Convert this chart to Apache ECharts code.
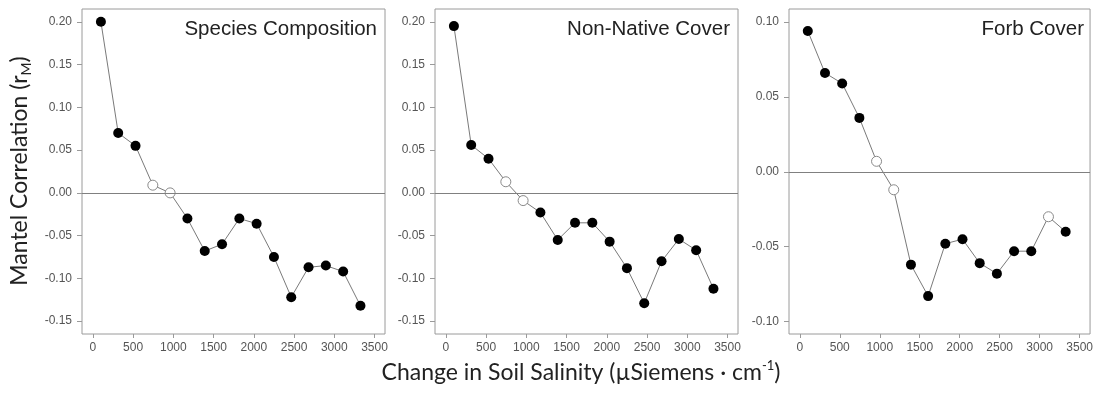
<!DOCTYPE html>
<html>
<head>
<meta charset="utf-8">
<script src="https://cdn.jsdelivr.net/npm/echarts@6/dist/echarts.min.js"></script>
<style>
  html, body { margin: 0; padding: 0; background: #ffffff; }
  #chart { width: 1096px; height: 394px; }
</style>
</head>
<body>
<div id="chart"></div>
<script>
// Distance-class midpoints (change in soil salinity, µS/cm)
const salinityBins = [100, 315, 530, 745, 960, 1175, 1390, 1605, 1820, 2035, 2250, 2465, 2680, 2895, 3110, 3325];

// Mantel correlogram values per response
const speciesComposition = [0.200, 0.070, 0.055, 0.009, 0.000, -0.030, -0.068, -0.060, -0.030, -0.036, -0.075, -0.122, -0.087, -0.085, -0.092, -0.132];
const nonNativeCover     = [0.195, 0.056, 0.040, 0.013, -0.009, -0.023, -0.055, -0.035, -0.035, -0.057, -0.088, -0.129, -0.080, -0.054, -0.067, -0.112];
const forbCover          = [0.094, 0.066, 0.059, 0.036, 0.007, -0.012, -0.062, -0.083, -0.048, -0.045, -0.061, -0.068, -0.053, -0.053, -0.030, -0.040];

// Indices of non-significant classes (drawn as open circles)
const speciesNonSig   = [3, 4];
const nonNativeNonSig = [3, 4];
const forbNonSig      = [4, 5, 14];

// Panel names and tick labels
const panelTitles = ['Species Composition', 'Non-Native Cover', 'Forb Cover'];
const xTicks = [0, 500, 1000, 1500, 2000, 2500, 3000, 3500];
const yTicksWide = [-0.15, -0.10, -0.05, 0.00, 0.05, 0.10, 0.15, 0.20];
const yTicksForb = [-0.10, -0.05, 0.00, 0.05, 0.10];

const panels = [
  { title: panelTitles[0], values: speciesComposition, nonSig: speciesNonSig,   yTicks: yTicksWide, yMin: -0.165, yMax: 0.215,  left: 82 },
  { title: panelTitles[1], values: nonNativeCover,     nonSig: nonNativeNonSig, yTicks: yTicksWide, yMin: -0.165, yMax: 0.215,  left: 435 },
  { title: panelTitles[2], values: forbCover,          nonSig: forbNonSig,      yTicks: yTicksForb, yMin: -0.1083, yMax: 0.1087, left: 789 }
];

const PLOT_TOP = 9, PLOT_W = 303, PLOT_H = 325, PAGE_W = 1096;
const tickFont = 'Liberation Sans, Arial, sans-serif';
const titleFont = 'Lato, "Open Sans", sans-serif';

const chart = echarts.init(document.getElementById('chart'), null, { renderer: 'canvas' });

const option = {
  animation: false,
  backgroundColor: '#ffffff',
  title: panels.map(p => ({
    text: p.title,
    right: PAGE_W - (p.left + PLOT_W) + 8,
    top: 19,
    padding: 0,
    textStyle: { fontFamily: tickFont, fontSize: 20.5, fontWeight: 'normal', color: '#222222', lineHeight: 20 }
  })),
  grid: panels.map(p => ({
    left: p.left, top: PLOT_TOP, width: PLOT_W, height: PLOT_H,
    show: true, borderColor: '#9a9a9a', borderWidth: 1, backgroundColor: 'transparent'
  })),
  xAxis: panels.map((p, i) => ({
    gridIndex: i, type: 'value', min: -135, max: 3630, position: 'bottom',
    axisLine: { show: false, onZero: false },
    splitLine: { show: false },
    axisTick: { show: true, customValues: xTicks, length: 4, lineStyle: { color: '#9a9a9a' } },
    axisLabel: { customValues: xTicks, margin: 8, fontSize: 12, color: '#555555', fontFamily: tickFont,
                 formatter: v => String(v) }
  })),
  yAxis: panels.map((p, i) => ({
    gridIndex: i, type: 'value', min: p.yMin, max: p.yMax, position: 'left',
    axisLine: { show: false, onZero: false },
    splitLine: { show: false },
    axisTick: { show: true, customValues: p.yTicks, length: 5, lineStyle: { color: '#9a9a9a' } },
    axisLabel: { customValues: p.yTicks, margin: 10, fontSize: 12, color: '#555555', fontFamily: tickFont,
                 formatter: v => v.toFixed(2) }
  })),
  series: panels.map((p, i) => ({
    type: 'line',
    xAxisIndex: i, yAxisIndex: i,
    symbol: 'circle', symbolSize: 10, showAllSymbol: true,
    lineStyle: { color: '#7a7a7a', width: 1 },
    data: salinityBins.map((x, k) => {
      const open = p.nonSig.indexOf(k) !== -1;
      return {
        value: [x, p.values[k]],
        itemStyle: open
          ? { color: '#ffffff', borderColor: '#8a8a8a', borderWidth: 1 }
          : { color: '#000000', borderColor: '#000000', borderWidth: 0 }
      };
    }),
    markLine: {
      silent: true, symbol: 'none', label: { show: false },
      lineStyle: { color: '#808080', width: 1, type: 'solid' },
      data: [{ yAxis: 0 }]
    },
    z: 3
  })),
  graphic: [
    {
      type: 'text', x: 20, y: 171, rotation: Math.PI / 2,
      style: {
        text: '{a|Mantel Correlation (r}{s|M}{a|)}',
        align: 'center', verticalAlign: 'middle',
        fill: '#222222',
        rich: {
          a: { fontFamily: titleFont, fontSize: 23, lineHeight: 27, fill: '#222222', verticalAlign: 'middle' },
          s: { fontFamily: titleFont, fontSize: 14, lineHeight: 14, fill: '#222222', verticalAlign: 'bottom' }
        }
      }
    },
    {
      type: 'text', x: 581, y: 373,
      style: {
        text: '{a|Change in Soil Salinity (µSiemens · cm}{s|-1}{a|)}',
        align: 'center', verticalAlign: 'middle',
        fill: '#222222',
        rich: {
          a: { fontFamily: titleFont, fontSize: 23, lineHeight: 27, fill: '#222222', verticalAlign: 'middle' },
          s: { fontFamily: titleFont, fontSize: 13, lineHeight: 13, fill: '#222222', verticalAlign: 'top' }
        }
      }
    }
  ]
};

chart.setOption(option);
</script>
</body>
</html>
